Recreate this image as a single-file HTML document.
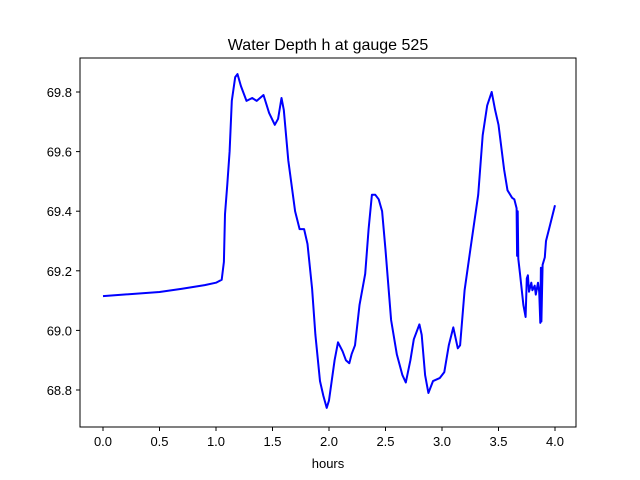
<!DOCTYPE html>
<html><head><meta charset="utf-8"><style>
html,body{margin:0;padding:0;background:#fff;}
svg{display:block;font-family:"Liberation Sans","DejaVu Sans",sans-serif;}
</style></head><body>
<svg id="chart" width="640" height="480" viewBox="0 0 640 480">
<rect x="0" y="0" width="640" height="480" fill="#fff"/>
<text x="328" y="50" text-anchor="middle" font-size="16">Water Depth h at gauge 525</text>
<g id="ticks"></g>
<path id="series" fill="none" stroke="#0000ff" stroke-width="2" stroke-linejoin="round"/>
<rect x="80" y="58" width="496" height="369" fill="none" stroke="#000" stroke-width="1"/>
<text x="328" y="468" text-anchor="middle" font-size="13">hours</text>
</svg>
<script>
const hours=[0,0.5,0.7,0.9,1.0,1.05,1.07,1.08,1.1,1.12,1.14,1.17,1.19,1.22,1.27,1.32,1.36,1.42,1.47,1.52,1.55,1.58,1.6,1.64,1.7,1.74,1.78,1.81,1.85,1.88,1.92,1.95,1.98,2.0,2.05,2.08,2.12,2.15,2.18,2.2,2.23,2.27,2.32,2.35,2.38,2.41,2.44,2.47,2.5,2.55,2.6,2.65,2.68,2.72,2.75,2.8,2.82,2.85,2.88,2.92,2.98,3.02,3.06,3.1,3.14,3.16,3.2,3.25,3.32,3.36,3.4,3.44,3.47,3.5,3.55,3.58,3.62,3.64,3.66,3.665,3.67,3.675,3.69,3.72,3.74,3.75,3.76,3.77,3.79,3.8,3.82,3.83,3.85,3.86,3.87,3.875,3.88,3.89,3.91,3.92,3.95,4.0];
const depth=[69.115,69.129,69.14,69.152,69.16,69.17,69.23,69.39,69.49,69.6,69.77,69.85,69.86,69.82,69.77,69.78,69.77,69.79,69.73,69.69,69.71,69.78,69.74,69.57,69.4,69.34,69.34,69.29,69.14,68.985,68.83,68.78,68.74,68.765,68.9,68.96,68.93,68.9,68.89,68.92,68.95,69.085,69.19,69.34,69.455,69.455,69.44,69.4,69.27,69.035,68.92,68.85,68.825,68.9,68.97,69.02,68.985,68.85,68.79,68.83,68.84,68.86,68.95,69.01,68.94,68.95,69.135,69.27,69.455,69.655,69.755,69.8,69.74,69.69,69.54,69.47,69.445,69.44,69.41,69.25,69.4,69.24,69.19,69.085,69.045,69.175,69.185,69.13,69.16,69.135,69.15,69.12,69.16,69.13,69.025,69.21,69.03,69.22,69.245,69.3,69.345,69.42];
const xTicks=[0,0.5,1.0,1.5,2.0,2.5,3.0,3.5,4.0];
const xTickLabels=["0.0","0.5","1.0","1.5","2.0","2.5","3.0","3.5","4.0"];
const yTicks=[68.8,69.0,69.2,69.4,69.6,69.8];
const yTickLabels=["68.8","69.0","69.2","69.4","69.6","69.8"];

const X=h=>103+h*113;
const Y=v=>92+(69.8-v)*298;
const NS="http://www.w3.org/2000/svg";
const tg=document.getElementById('ticks');
xTicks.forEach((t,i)=>{
  const l=document.createElementNS(NS,'line');
  l.setAttribute('x1',X(t));l.setAttribute('x2',X(t));l.setAttribute('y1',427);l.setAttribute('y2',431);
  l.setAttribute('stroke','#000');
  
  
  tg.appendChild(l);
  const tx=document.createElementNS(NS,'text');
  tx.setAttribute('x',X(t));tx.setAttribute('y',446);tx.setAttribute('text-anchor','middle');tx.setAttribute('font-size','13');
  tx.textContent=xTickLabels[i];
  
  
  tg.appendChild(tx);
});
yTicks.forEach((t,i)=>{
  const l=document.createElementNS(NS,'line');
  l.setAttribute('x1',76);l.setAttribute('x2',80);l.setAttribute('y1',Y(t));l.setAttribute('y2',Y(t));
  l.setAttribute('stroke','#000');
  
  
  tg.appendChild(l);
  const tx=document.createElementNS(NS,'text');
  tx.setAttribute('x',72);tx.setAttribute('y',Y(t)+5);tx.setAttribute('text-anchor','end');tx.setAttribute('font-size','13');
  tx.textContent=yTickLabels[i];
  
  
  tg.appendChild(tx);
});
document.getElementById('series').setAttribute('d',hours.map((h,i)=>(i?'L':'M')+X(h).toFixed(1)+' '+Y(depth[i]).toFixed(1)).join(' '));
</script>
</body></html>
